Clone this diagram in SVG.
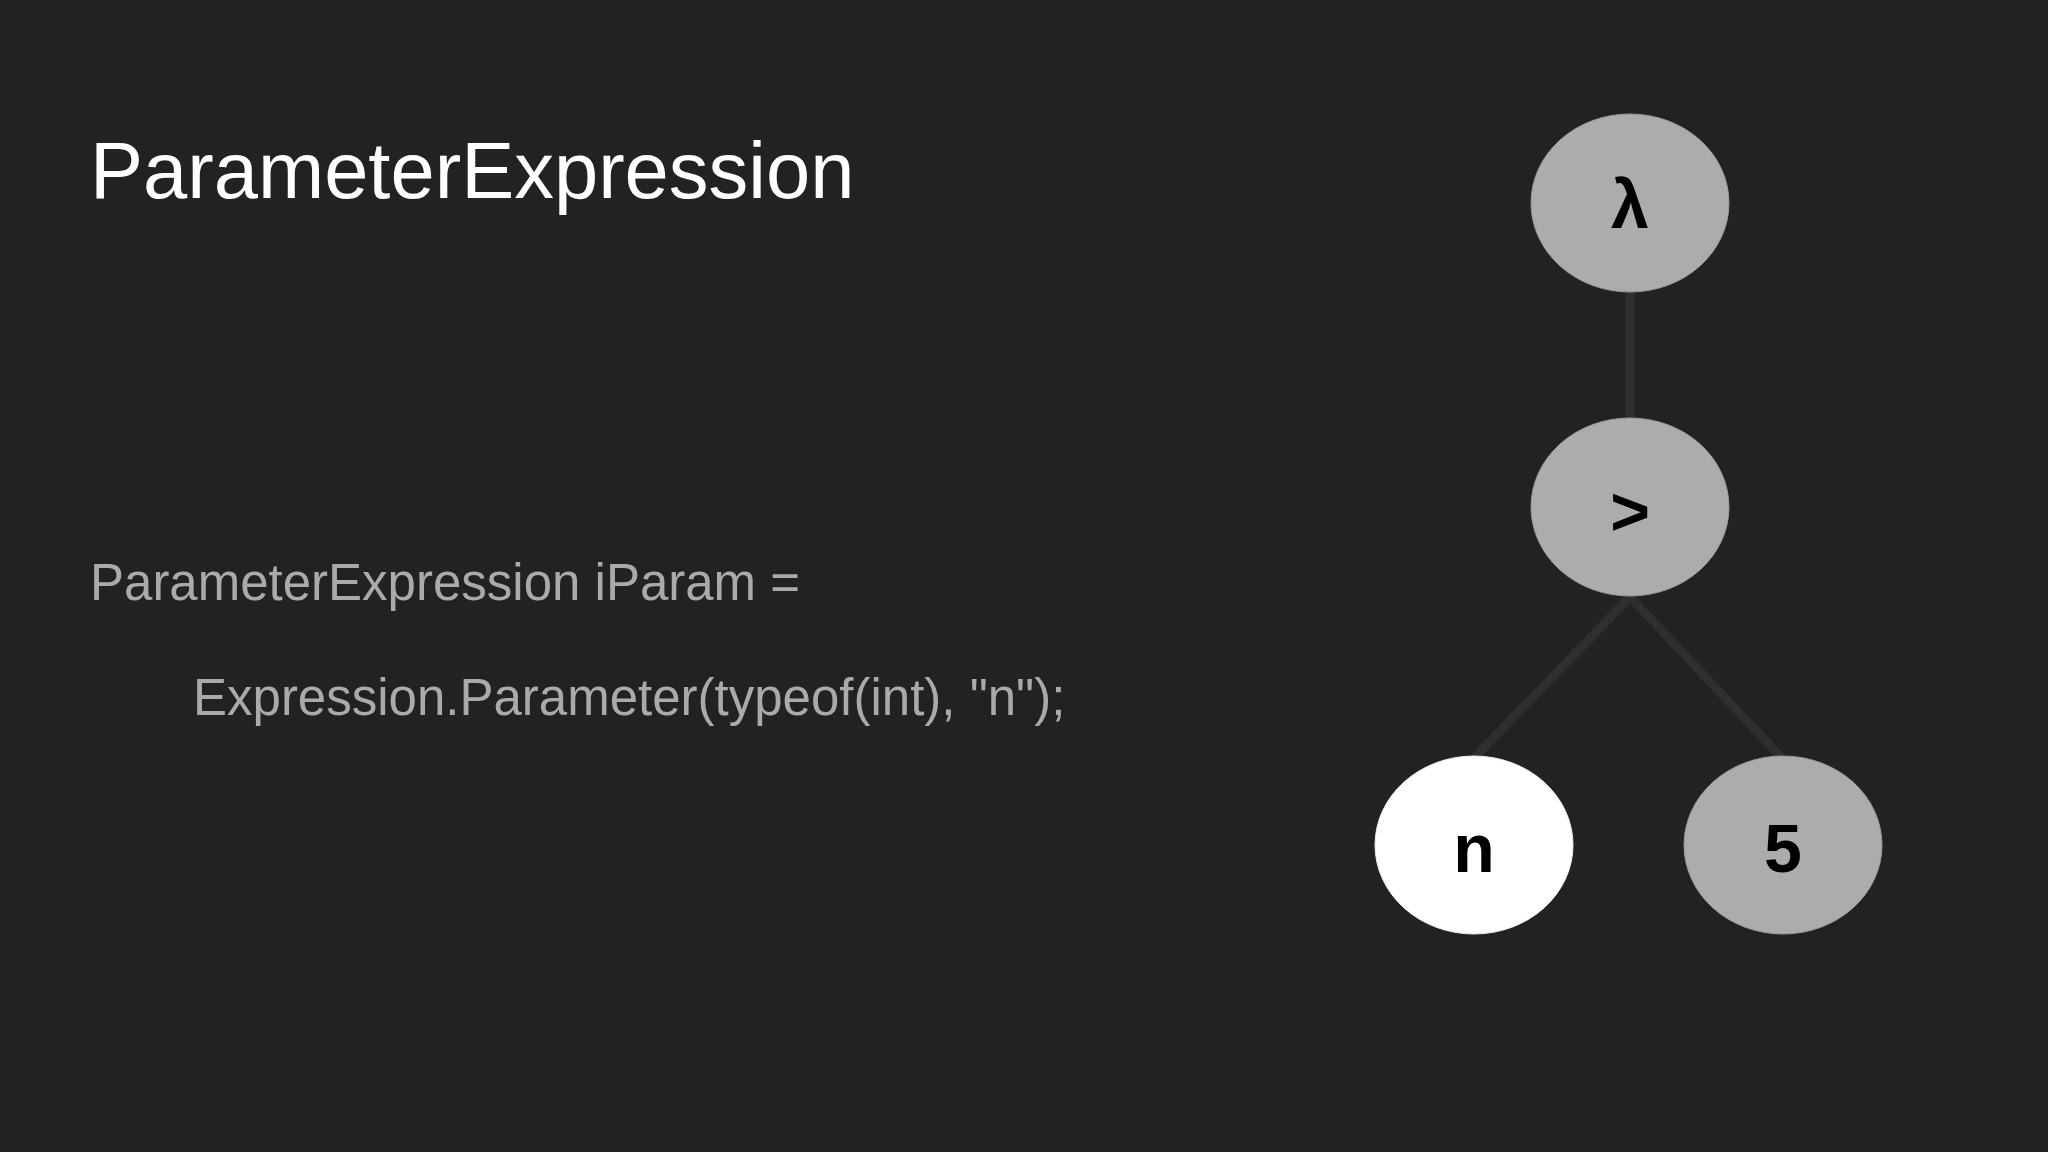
<svg xmlns="http://www.w3.org/2000/svg" width="2048" height="1152" viewBox="0 0 2048 1152">
<style>
.title{font-family:"Liberation Sans",Arial,sans-serif;font-size:79.5px;fill:#ffffff}
.code{font-family:"Liberation Sans",Arial,sans-serif;font-size:51px;fill:#aaaaaa}
.node ellipse{fill:#acacac;stroke:#9a9a9a;stroke-width:1}
.node.param ellipse{fill:#ffffff;stroke:#eeeeee}
.lbl{font-family:"Liberation Sans",Arial,sans-serif;font-size:68px;font-weight:bold;fill:#000000;text-anchor:middle}
.edge{stroke:#2f2f2f;stroke-width:9;fill:none}
</style>
<rect width="2048" height="1152" fill="#222222"/>
<text class="title" x="90" y="198">ParameterExpression</text>
<text class="code" x="90" y="600">ParameterExpression iParam =</text>
<text class="code" x="193" y="715">Expression.Parameter(typeof(int), "n");</text>
<g id="connectors">
<line class="edge" x1="1630" y1="292" x2="1630" y2="418"/>
<line class="edge" x1="1630" y1="597" x2="1475" y2="757"/>
<line class="edge" x1="1630" y1="597" x2="1781" y2="757"/>
</g>
<g id="node-lambda" class="node">
<ellipse cx="1630" cy="203" rx="99" ry="89"/>
<text class="lbl" x="1630" y="228">λ</text>
</g>
<g id="node-gt" class="node">
<ellipse cx="1630" cy="507" rx="99" ry="89"/>
<text class="lbl" x="1630" y="535">&gt;</text>
</g>
<g id="node-n" class="node param">
<ellipse cx="1474" cy="845" rx="99" ry="89"/>
<text class="lbl" x="1474" y="872">n</text>
</g>
<g id="node-5" class="node">
<ellipse cx="1783" cy="845" rx="99" ry="89"/>
<text class="lbl" x="1783" y="872">5</text>
</g>
</svg>
